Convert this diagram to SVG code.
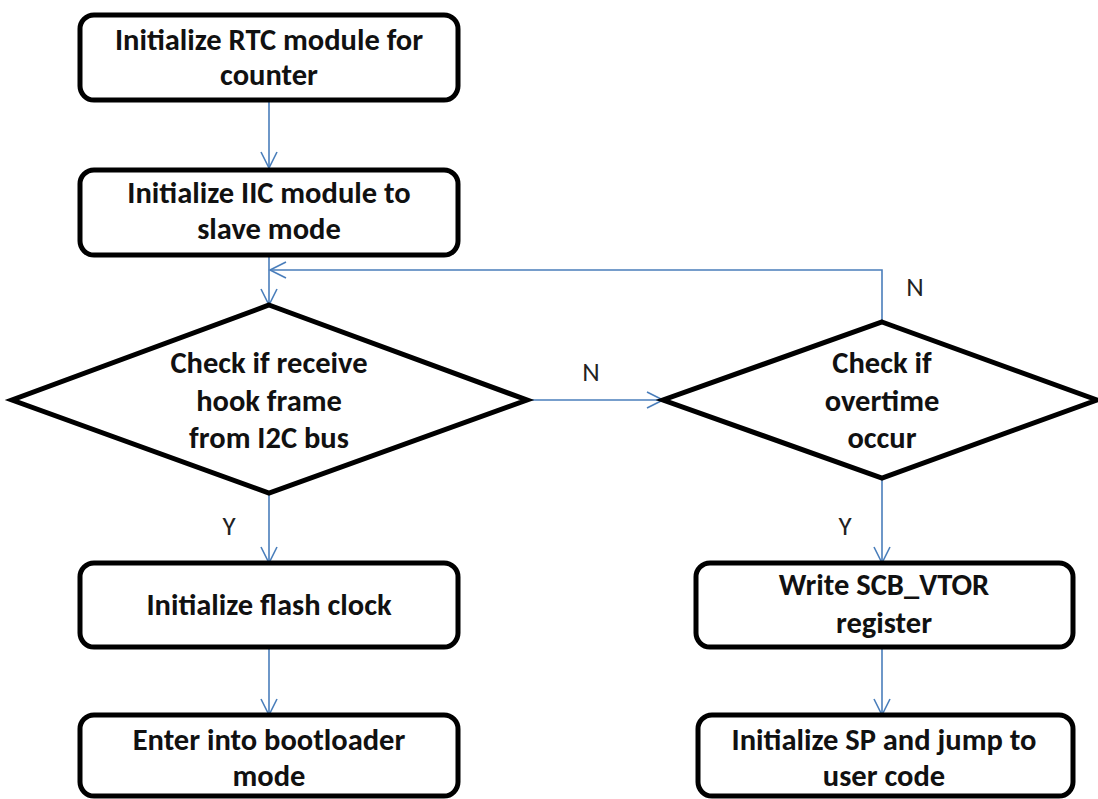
<svg xmlns="http://www.w3.org/2000/svg" width="1098" height="799" viewBox="0 0 1098 799">
<style>
.box{fill:#fff;stroke:#000;stroke-width:5}
.t{font-family:"Carlito","Liberation Sans",Arial,sans-serif;font-weight:bold;font-size:30.5px;fill:#111;text-anchor:middle}
.lbl{font-family:"Carlito","Liberation Sans",Arial,sans-serif;font-size:27px;fill:#222;text-anchor:middle}
.c{fill:none;stroke:#4a7ebb;stroke-width:1.6}
</style>
<defs>
<marker id="ah" viewBox="0 0 20 20" refX="18" refY="10" markerWidth="20" markerHeight="20" markerUnits="userSpaceOnUse" orient="auto">
<path d="M2,2 L18,10 L2,18" fill="none" stroke="#4a7ebb" stroke-width="1.6"/>
</marker>
</defs>
<g id="connectors">
<line class="c" x1="269" y1="100" x2="269" y2="168" marker-end="url(#ah)"/>
<line class="c" x1="269" y1="255" x2="269" y2="305" marker-end="url(#ah)"/>
<polyline class="c" points="882,322 882,270 270,270" marker-end="url(#ah)"/>
<line class="c" x1="527" y1="400" x2="663" y2="400" marker-end="url(#ah)"/>
<line class="c" x1="269" y1="493" x2="269" y2="563" marker-end="url(#ah)"/>
<line class="c" x1="269" y1="647" x2="269" y2="715" marker-end="url(#ah)"/>
<line class="c" x1="882" y1="478" x2="882" y2="563" marker-end="url(#ah)"/>
<line class="c" x1="882" y1="647" x2="882" y2="715" marker-end="url(#ah)"/>
<text class="lbl" x="591" y="381">N</text>
<text class="lbl" x="915" y="296">N</text>
<text class="lbl" x="229" y="535">Y</text>
<text class="lbl" x="845" y="535">Y</text>
</g>
<g id="n1">
<rect class="box" x="80" y="15" width="378" height="85" rx="14"/>
<text class="t" x="269" y="50">Initialize RTC module for</text>
<text class="t" x="269" y="85">counter</text>
</g>
<g id="n2">
<rect class="box" x="80" y="170" width="378" height="85" rx="14"/>
<text class="t" x="269" y="203">Initialize IIC module to</text>
<text class="t" x="269" y="239">slave mode</text>
</g>
<g id="d1">
<polygon class="box" points="269,305 527,400 269,493 12,400"/>
<text class="t" x="269" y="373">Check if receive</text>
<text class="t" x="269" y="411">hook frame</text>
<text class="t" x="269" y="448">from I2C bus</text>
</g>
<g id="d2">
<polygon class="box" points="882,322 1097,400 882,478 663,400"/>
<text class="t" x="882" y="373">Check if</text>
<text class="t" x="882" y="411">overtime</text>
<text class="t" x="882" y="448">occur</text>
</g>
<g id="n3">
<rect class="box" x="80" y="563" width="378" height="84" rx="14"/>
<text class="t" x="269" y="615">Initialize flash clock</text>
</g>
<g id="n4">
<rect class="box" x="80" y="715" width="378" height="81" rx="14"/>
<text class="t" x="269" y="750">Enter into bootloader</text>
<text class="t" x="269" y="786">mode</text>
</g>
<g id="n5">
<rect class="box" x="696" y="563" width="377" height="84" rx="14"/>
<text class="t" x="884" y="595">Write SCB_VTOR</text>
<text class="t" x="884" y="633">register</text>
</g>
<g id="n6">
<rect class="box" x="698" y="715" width="375" height="81" rx="14"/>
<text class="t" x="884" y="750">Initialize SP and jump to</text>
<text class="t" x="884" y="786">user code</text>
</g>
</svg>
